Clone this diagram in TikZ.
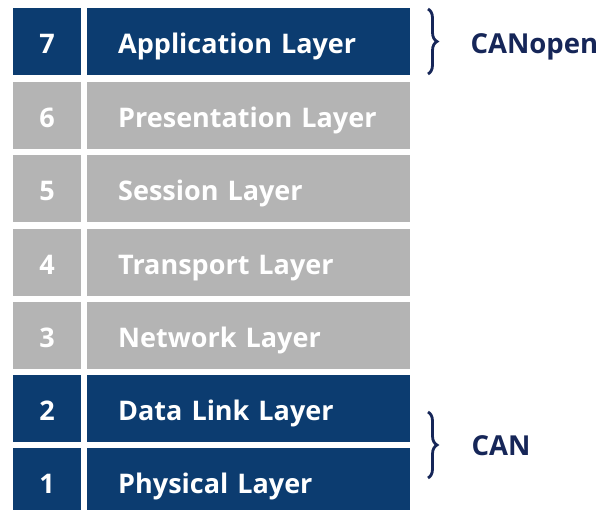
\documentclass[tikz,border=0pt]{standalone}
\usepackage{fontspec}
\setmainfont{Open Sans}
\usetikzlibrary{decorations.pathreplacing}
\definecolor{navy}{RGB}{12,60,112}
\definecolor{lgray}{RGB}{180,180,180}
\definecolor{labelc}{RGB}{22,38,88}
\begin{document}
\begin{tikzpicture}[x=1pt,y=-1pt,
  numbox/.style={minimum width=68pt,minimum height=67pt,inner sep=0pt,anchor=north west,text=white,text height=23pt,text depth=0pt,font=\bfseries\fontsize{27}{30}\selectfont},
  laybox/.style={minimum width=323pt,minimum height=67pt,inner sep=0pt,anchor=north west,text=white,text height=23pt,text depth=0pt,font=\bfseries\fontsize{27}{30}\selectfont,align=left,text width=261pt},
  darkrow/.style={fill=navy},
  greyrow/.style={fill=lgray},
  bracestyle/.style={draw=labelc,line width=2.8pt,decorate,decoration={brace,amplitude=9pt,raise=0pt}},
  lbl/.style={text=labelc,font=\bfseries\fontsize{27.5}{30}\selectfont,anchor=base west}]
\useasboundingbox (0,0) rectangle (615,510);
\begin{scope}
\clip (0,0) rectangle (615,510);
\foreach \n/\t/\y/\s in {7/Application Layer/8/darkrow,6/Presentation Layer/82/greyrow,5/Session Layer/155/greyrow,4/Transport Layer/229/greyrow,3/Network Layer/302/greyrow,2/Data Link Layer/375/darkrow,1/Physical Layer/448/darkrow}{
  \node[numbox,\s] (n\n) at (13,\y) {\n};
  \node[laybox,\s] (l\n) at (87,\y) {\t};
}
\end{scope}
\coordinate (b1t) at (428,9);
\coordinate (b1b) at (428,74);
\draw[bracestyle] (b1t) -- (b1b);
\node[lbl] (canopen) at (467,54) {CANopen};
\coordinate (b2t) at (428,412);
\coordinate (b2b) at (428,478);
\draw[bracestyle] (b2t) -- (b2b);
\node[lbl] (can) at (468,455) {CAN};
\end{tikzpicture}
\end{document}
